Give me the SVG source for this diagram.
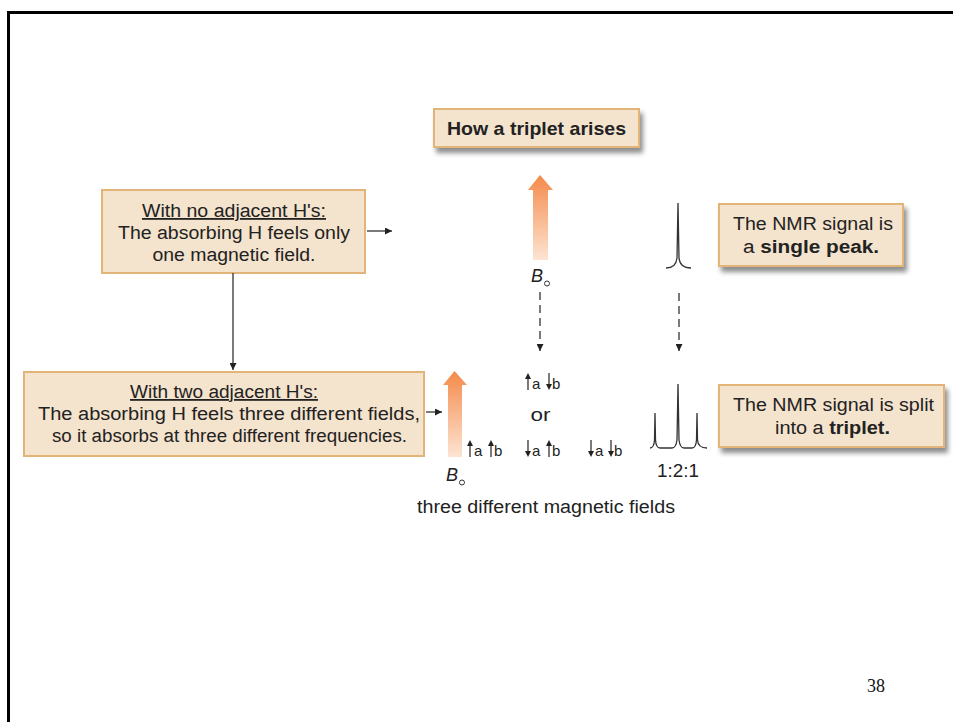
<svg xmlns="http://www.w3.org/2000/svg" width="953" height="722" viewBox="0 0 953 722">
  <style>
    .t { font-family: "Liberation Sans", Arial, sans-serif; fill: #222; }
    .box { fill: #f4e3cd; stroke: #e2b478; stroke-width: 2; }
    .conn { stroke: #222; stroke-width: 1.2; fill: none; }
    .dash { stroke: #222; stroke-width: 1.2; fill: none; stroke-dasharray: 8 5; }
    .peak { stroke: #333; stroke-width: 1.3; fill: none; }
    .spin { stroke: #222; stroke-width: 1.2; }
  </style>
  <defs>
    <marker id="ah" viewBox="0 0 10 10" refX="10" refY="5" markerWidth="7" markerHeight="7" markerUnits="userSpaceOnUse" orient="auto">
      <path d="M0,0 L10,5 L0,10 z" fill="#222"/>
    </marker>
    <linearGradient id="bfield" x1="0" y1="0" x2="0" y2="1">
      <stop offset="0" stop-color="#f48a4a"/>
      <stop offset="1" stop-color="#fde4d2"/>
    </linearGradient>
    <filter id="sh" x="-10%" y="-20%" width="130%" height="160%">
      <feGaussianBlur in="SourceAlpha" stdDeviation="2.5"/>
      <feOffset dx="3" dy="5" result="b"/>
      <feComponentTransfer><feFuncA type="linear" slope="0.45"/></feComponentTransfer>
      <feMerge><feMergeNode/><feMergeNode in="SourceGraphic"/></feMerge>
    </filter>
  </defs>

  <!-- page frame -->
  <rect x="0" y="0" width="953" height="722" fill="#fff"/>
  <path d="M8.5,722 L8.5,12.5 L953,12.5" stroke="#000" stroke-width="3" fill="none"/>

  <!-- title -->
  <g id="title">
    <rect class="box" x="434" y="109" width="205" height="38" filter="url(#sh)"/>
    <text class="t" x="536.5" y="135" font-size="18.5" font-weight="bold" text-anchor="middle" textLength="179" lengthAdjust="spacingAndGlyphs">How a triplet arises</text>
  </g>

  <!-- no adjacent H -->
  <g id="no-adjacent">
    <rect class="box" x="102" y="190" width="263" height="83"/>
    <text class="t" x="234" y="217" font-size="18" text-anchor="middle" text-decoration="underline" textLength="184" lengthAdjust="spacingAndGlyphs">With no adjacent H's:</text>
    <text class="t" x="234" y="239" font-size="18" text-anchor="middle" textLength="232" lengthAdjust="spacingAndGlyphs">The absorbing H feels only</text>
    <text class="t" x="234" y="261" font-size="18" text-anchor="middle" textLength="163" lengthAdjust="spacingAndGlyphs">one magnetic field.</text>
  </g>

  <!-- two adjacent H -->
  <g id="two-adjacent">
    <rect class="box" x="24" y="372" width="400" height="84"/>
    <text class="t" x="224" y="398" font-size="18" text-anchor="middle" text-decoration="underline" textLength="188" lengthAdjust="spacingAndGlyphs">With two adjacent H's:</text>
    <text class="t" x="229" y="420" font-size="18" text-anchor="middle" textLength="382" lengthAdjust="spacingAndGlyphs">The absorbing H feels three different fields,</text>
    <text class="t" x="229.5" y="442" font-size="18" text-anchor="middle" textLength="355" lengthAdjust="spacingAndGlyphs">so it absorbs at three different frequencies.</text>
  </g>

  <!-- single peak result -->
  <g id="single-result">
    <rect class="box" x="719" y="204" width="184" height="62" filter="url(#sh)"/>
    <text class="t" x="813" y="230" font-size="18" text-anchor="middle" textLength="160" lengthAdjust="spacingAndGlyphs">The NMR signal is</text>
    <text class="t" x="811" y="253" font-size="18" text-anchor="middle" textLength="136" lengthAdjust="spacingAndGlyphs">a  <tspan font-weight="bold">single peak.</tspan></text>
  </g>

  <!-- triplet result -->
  <g id="triplet-result">
    <rect class="box" x="719" y="385" width="225" height="62" filter="url(#sh)"/>
    <text class="t" x="833.5" y="411" font-size="18" text-anchor="middle" textLength="201" lengthAdjust="spacingAndGlyphs">The NMR signal is split</text>
    <text class="t" x="832.5" y="434" font-size="18" text-anchor="middle" textLength="115" lengthAdjust="spacingAndGlyphs">into a <tspan font-weight="bold">triplet.</tspan></text>
  </g>

  <!-- applied field, one field -->
  <g id="field-single">
    <path d="M540,175 L553,190 L548,190 L548,260 L533,260 L533,190 L528,190 z" fill="url(#bfield)"/>
    <text class="t" x="531" y="282" font-size="18" font-style="italic">B</text>
    <circle cx="547" cy="283.5" r="2.5" fill="none" stroke="#333" stroke-width="1"/>
  </g>

  <!-- applied field, three fields -->
  <g id="field-triplet">
    <path d="M454.5,371 L467,385 L462,385 L462,457 L448,457 L448,385 L443,385 z" fill="url(#bfield)"/>
    <text class="t" x="446" y="481" font-size="18" font-style="italic">B</text>
    <circle cx="462" cy="482.5" r="2.5" fill="none" stroke="#333" stroke-width="1"/>
  </g>

  <!-- spin states of the two neighbours -->
  <g id="spin-states" class="t" font-size="15">
    <!-- a up, b down -->
    <path class="spin" d="M528,390 L528,378"/><path d="M525,379 L528,373 L531,379 z" fill="#222"/>
    <text x="532" y="389">a</text>
    <path class="spin" d="M549,373 L549,385"/><path d="M546,384 L549,390 L552,384 z" fill="#222"/>
    <text x="552" y="389">b</text>
    <text x="540.5" y="421" font-size="18" text-anchor="middle" textLength="20" lengthAdjust="spacingAndGlyphs">or</text>
    <!-- a up, b up -->
    <path class="spin" d="M470,457 L470,445"/><path d="M467,446 L470,440 L473,446 z" fill="#222"/>
    <text x="474" y="456">a</text>
    <path class="spin" d="M491,457 L491,445"/><path d="M488,446 L491,440 L494,446 z" fill="#222"/>
    <text x="494" y="456">b</text>
    <!-- a down, b up -->
    <path class="spin" d="M528,440 L528,452"/><path d="M525,451 L528,457 L531,451 z" fill="#222"/>
    <text x="532" y="456">a</text>
    <path class="spin" d="M549,457 L549,445"/><path d="M546,446 L549,440 L552,446 z" fill="#222"/>
    <text x="552" y="456">b</text>
    <!-- a down, b down -->
    <path class="spin" d="M591,440 L591,452"/><path d="M588,451 L591,457 L594,451 z" fill="#222"/>
    <text x="595" y="456">a</text>
    <path class="spin" d="M611,440 L611,452"/><path d="M608,451 L611,457 L614,451 z" fill="#222"/>
    <text x="614" y="456">b</text>
  </g>

  <!-- spectra -->
  <g id="spectrum-single">
    <path class="peak" d="M666,268 Q676,268 677,258 L678,203 L679,258 Q680,268 691,268"/>
  </g>
  <g id="spectrum-triplet">
    <path class="peak" d="M650,448 Q654,448 654.5,440 L655,413 L655.5,440 Q656,448 660,448 L672,448 Q676,448 677,440 L678,384 L679,440 Q680,448 684,448 L692,448 Q696,448 696.5,440 L697,413 L697.5,440 Q698,448 707,448"/>
    <text class="t" x="678" y="477" font-size="18" text-anchor="middle" textLength="42" lengthAdjust="spacingAndGlyphs">1:2:1</text>
  </g>

  <text class="t" x="546" y="513" font-size="18" text-anchor="middle" textLength="258" lengthAdjust="spacingAndGlyphs">three different magnetic fields</text>

  <!-- connectors -->
  <g id="connectors">
    <path class="conn" d="M367,231 L392,231" marker-end="url(#ah)"/>
    <path class="conn" d="M233,273 L233,370" marker-end="url(#ah)"/>
    <path class="conn" d="M426,412 L442,412" marker-end="url(#ah)"/>
    <path class="dash" d="M540,292 L540,351" marker-end="url(#ah)"/>
    <path class="dash" d="M679,293 L679,351" marker-end="url(#ah)"/>
  </g>

  <text x="876" y="692" font-family="Liberation Serif, serif" font-size="18" fill="#111" text-anchor="middle">38</text>
</svg>
